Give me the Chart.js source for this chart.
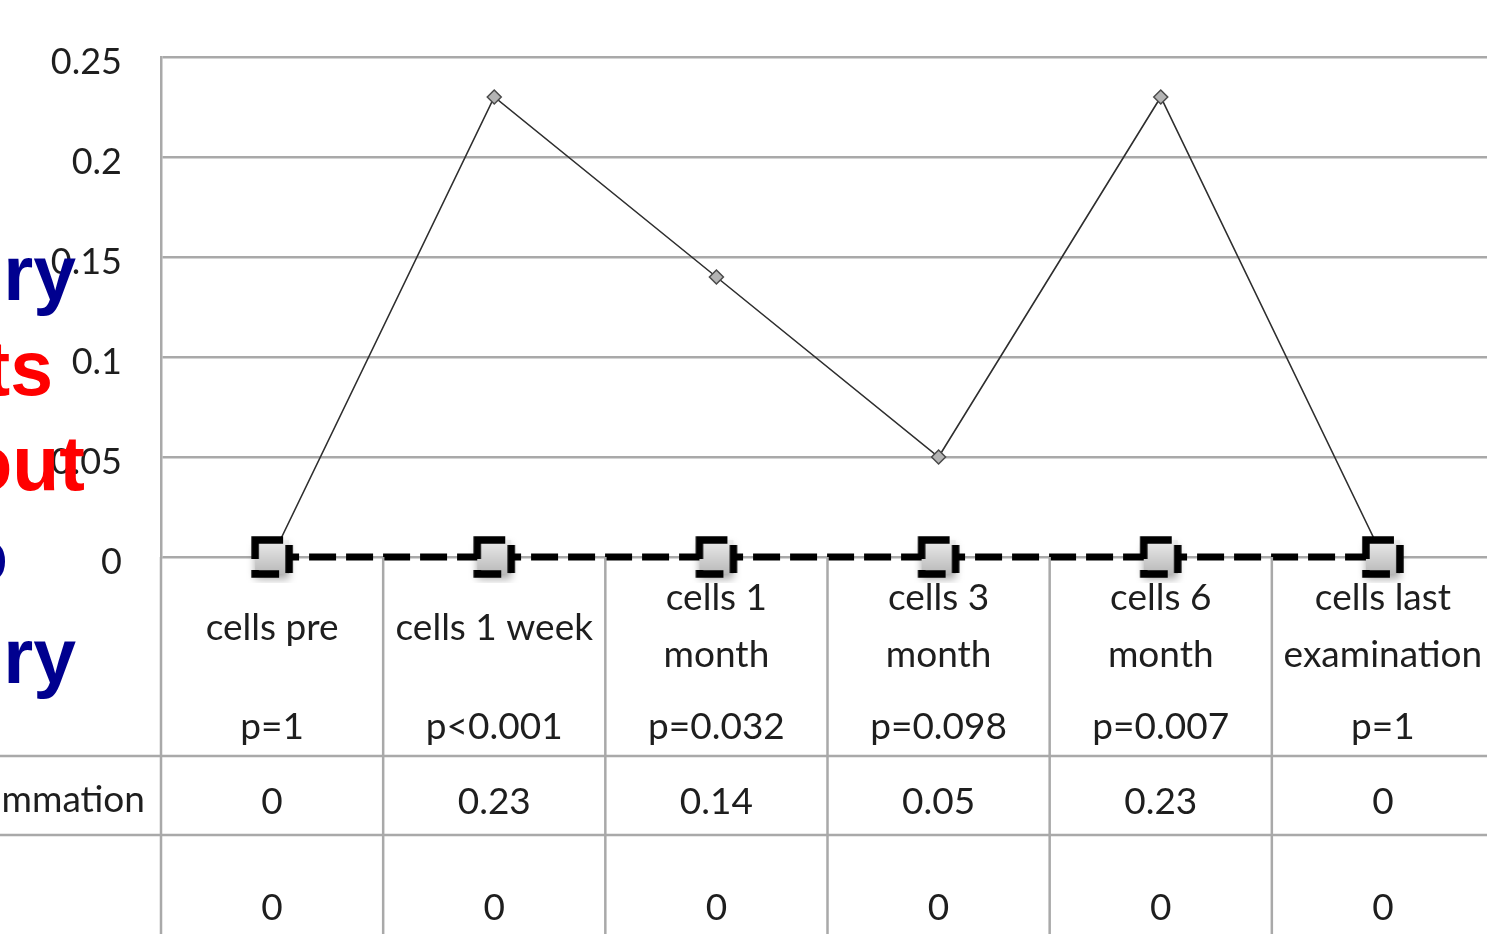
<!DOCTYPE html>
<html>
<head>
<meta charset="utf-8">
<script src="https://cdn.jsdelivr.net/npm/chart.js@4.4.1/dist/chart.umd.min.js"></script>
<style>
  html, body { margin: 0; padding: 0; background: #fff; overflow: hidden; }
  #wrap { position: relative; width: 1494px; height: 934px; }
</style>
</head>
<body>
<div id="wrap"><canvas id="chart" width="1494" height="934"></canvas></div>
<script>
// ---- data ----
const categories = [
  ['cells pre'],
  ['cells 1 week'],
  ['cells 1', 'month'],
  ['cells 3', 'month'],
  ['cells 6', 'month'],
  ['cells last', 'examination']
];
const pValues = ['p=1', 'p<0.001', 'p=0.032', 'p=0.098', 'p=0.007', 'p=1'];
const inflammation = [0, 0.23, 0.14, 0.05, 0.23, 0];
const comparison = [0, 0, 0, 0, 0, 0];
const yTicks = [0, 0.05, 0.1, 0.15, 0.2, 0.25];
const seriesNames = ['Inflammation', ''];
const sideWords = ['ry', 'ts', 'out', 'o', 'ry'];
const sideColors = ['#00008f', '#ff0000', '#ff0000', '#00008f', '#00008f'];

// ---- styling ----
const GRID = '#a9a9a9';
const TEXT = '#1e1e1e';
const LABEL_FONT = '37px Lato, "Open Sans", sans-serif';

// square marker with a dashed heavy outline, used for the zero series
function dashedSquareMarker() {
  const s = 52, c = document.createElement('canvas');
  c.width = s; c.height = s;
  const g = c.getContext('2d');
  g.save();
  g.shadowColor = 'rgba(0,0,0,0.35)';
  g.shadowBlur = 8;
  g.shadowOffsetY = 5;
  const grad = g.createLinearGradient(0, 9, 0, 43);
  grad.addColorStop(0, '#ececec');
  grad.addColorStop(1, '#b9b9b9');
  g.fillStyle = grad;
  g.fillRect(9, 9, 34, 34);
  g.restore();
  g.strokeStyle = '#000';
  g.lineWidth = 7.5;
  g.setLineDash([28, 11]);
  g.strokeRect(9, 9, 34, 34);
  return c;
}

// data table under the plot plus the slide text on the left
const dataTable = {
  id: 'dataTable',
  afterDraw(chart) {
    const { ctx, chartArea: a, scales: { x } } = chart;
    const H = chart.height, W = chart.width;
    const n = categories.length;
    const colW = (a.right - a.left) / n;
    const headBottom = a.bottom + 199;
    const row2Bottom = a.bottom + 278;

    ctx.save();
    ctx.strokeStyle = GRID;
    ctx.lineWidth = 2.5;
    ctx.beginPath();
    for (let i = 0; i <= n; i++) {
      const px = a.left + i * colW;
      ctx.moveTo(px, a.bottom);
      ctx.lineTo(px, H);
    }
    ctx.moveTo(0, headBottom); ctx.lineTo(W, headBottom);
    ctx.moveTo(0, row2Bottom); ctx.lineTo(W, row2Bottom);
    ctx.stroke();

    ctx.fillStyle = TEXT;
    ctx.font = LABEL_FONT;
    ctx.textAlign = 'center';
    ctx.textBaseline = 'middle';
    categories.forEach((lines, i) => {
      const cx = x.getPixelForValue(i);
      if (lines.length === 1) {
        ctx.fillText(lines[0], cx, a.bottom + 71);
      } else {
        ctx.fillText(lines[0], cx, a.bottom + 41);
        ctx.fillText(lines[1], cx, a.bottom + 98);
      }
      ctx.fillText(pValues[i], cx, a.bottom + 170);
      ctx.fillText(String(inflammation[i]), cx, a.bottom + 245);
      ctx.fillText(String(comparison[i]), cx, a.bottom + 351);
    });
    ctx.textAlign = 'right';
    ctx.fillText(seriesNames[0], a.left - 16, a.bottom + 243);
    ctx.fillText(seriesNames[1], a.left - 16, a.bottom + 351);

    // slide heading fragments at the left edge
    ctx.font = 'bold 77px "Liberation Sans", Arial, sans-serif';
    ctx.textBaseline = 'alphabetic';
    const xs = [76, 53, 85, 8, 76];
    const ys = [300, 395, 490, 582, 683];
    sideWords.forEach((w, i) => {
      ctx.fillStyle = sideColors[i];
      ctx.fillText(w, xs[i], ys[i]);
    });
    ctx.restore();
  }
};

new Chart(document.getElementById('chart'), {
  type: 'line',
  data: {
    labels: categories.map(l => l.join(' ')),
    datasets: [
      {
        label: seriesNames[0],
        data: inflammation,
        borderColor: '#2e2e2e',
        borderWidth: 1.6,
        tension: 0,
        pointStyle: 'rectRot',
        pointRadius: 7,
        pointBackgroundColor: '#b4b4b4',
        pointBorderColor: '#4a4a4a',
        pointBorderWidth: 1.5,
        clip: false,
        order: 1
      },
      {
        label: seriesNames[1],
        data: comparison,
        borderColor: '#000',
        borderWidth: 7,
        borderDash: [27, 10],
        tension: 0,
        pointStyle: dashedSquareMarker(),
        pointRadius: 22,
        clip: false,
        order: 0
      }
    ]
  },
  options: {
    responsive: false,
    animation: false,
    events: [],
    layout: { autoPadding: false, padding: { left: 0, right: 0, top: 57, bottom: 377 } },
    plugins: { legend: { display: false }, tooltip: { enabled: false } },
    scales: {
      x: {
        type: 'category',
        offset: true,
        display: false
      },
      y: {
        min: 0,
        max: 0.25,
        afterBuildTicks(scale) { scale.ticks = yTicks.map(v => ({ value: v })); },
        afterFit(scale) {
          scale.width = 161;
          scale.paddingTop = 0;
          scale.paddingBottom = 0;
        },
        grid: { color: GRID, lineWidth: 2.5, drawTicks: false },
        border: { display: true, color: GRID, width: 2.5 },
        ticks: {
          padding: 39,
          labelOffset: 5,
          color: TEXT,
          font: { family: 'Lato, "Open Sans", sans-serif', size: 36 },
          callback: v => String(v)
        }
      }
    }
  },
  plugins: [dataTable]
});
</script>
</body>
</html>
